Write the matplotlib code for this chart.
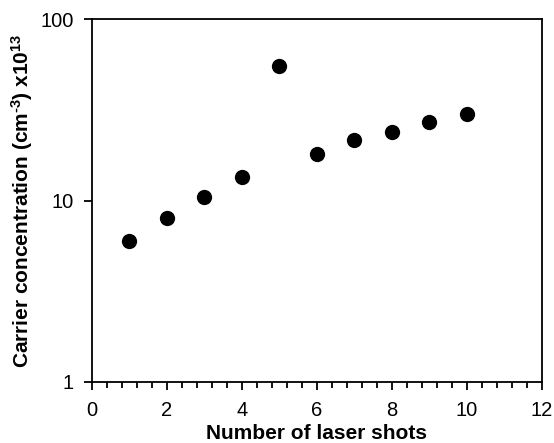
import matplotlib
matplotlib.use("Agg")
import matplotlib.pyplot as plt
from matplotlib.ticker import FixedLocator, FixedFormatter, MultipleLocator, NullLocator

plt.rcParams['font.family'] = ['Liberation Sans', 'DejaVu Sans']
plt.rcParams['mathtext.fontset'] = 'custom'
plt.rcParams['mathtext.rm'] = 'Liberation Sans:bold'
plt.rcParams['mathtext.default'] = 'regular'

# Carrier concentration (x10^13 cm^-3) versus number of laser shots
shots = [1, 2, 3, 4, 5, 6, 7, 8, 9, 10]
concentration = [6.0, 8.0, 10.5, 13.5, 55.0, 18.0, 21.5, 24.0, 27.0, 30.0]

x_ticks = [0, 2, 4, 6, 8, 10, 12]
y_ticks = [1, 10, 100]
y_tick_labels = ['1', '10', '100']

fig = plt.figure(figsize=(5.54, 4.43), dpi=100)
ax = fig.add_axes([0.1655, 0.1377, 0.978 - 0.1655, 0.9564 - 0.1377])

ax.plot(shots, concentration, linestyle='none', marker='o', markersize=11,
        color='black', markeredgewidth=0)

ax.set_yscale('log')
ax.set_xlim(0, 12)
ax.set_ylim(1, 100)

ax.xaxis.set_major_locator(FixedLocator(x_ticks))
ax.xaxis.set_minor_locator(MultipleLocator(0.4))
ax.yaxis.set_major_locator(FixedLocator(y_ticks))
ax.yaxis.set_major_formatter(FixedFormatter(y_tick_labels))
ax.yaxis.set_minor_locator(NullLocator())

for side in ['left', 'right', 'top', 'bottom']:
    ax.spines[side].set_linewidth(1.3)

ax.tick_params(axis='both', which='major', direction='out', length=6, width=1.3,
               labelsize=14.5, colors='black')
ax.tick_params(axis='x', which='major', pad=8)
ax.tick_params(axis='y', which='major', pad=7)
ax.tick_params(axis='x', which='minor', direction='out', length=4, width=1.3)

ax.set_xlabel('Number of laser shots', fontsize=15, fontweight='bold')
ax.set_ylabel(r'Carrier concentration (cm$^{\text{-3}}$) x10$^{13}$', fontsize=15,
              fontweight='bold')
ax.xaxis.label.set_verticalalignment('baseline')
ax.xaxis.set_label_coords(0.5, -0.157)
ax.yaxis.set_label_coords(-0.126, 0.5)

fig.savefig('out.png', dpi=100)
